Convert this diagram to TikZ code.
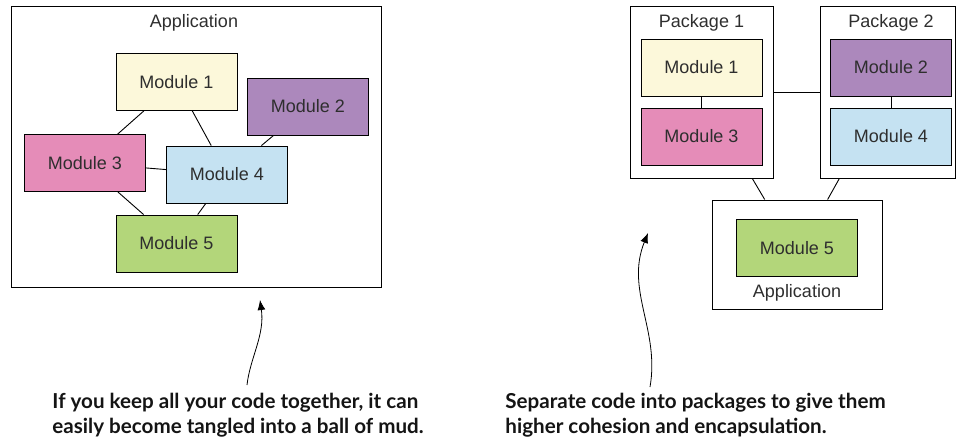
\documentclass[tikz,border=0pt]{standalone}
\usepackage{fontspec}
\setmainfont{Liberation Sans}
\newfontfamily\notefont{Lato}
\usetikzlibrary{arrows.meta}
\definecolor{mod1}{HTML}{FCF8DA}
\definecolor{mod2}{HTML}{AC88BC}
\definecolor{mod3}{HTML}{E58CB8}
\definecolor{mod4}{HTML}{C5E2F2}
\definecolor{mod5}{HTML}{B3D67A}

\begin{document}
\begin{tikzpicture}
  [x=1pt,y=-1pt,line width=0.9pt,
   every node/.style={text=black!82,font=\fontsize{18}{20}\selectfont},
   module/.style={draw,inner sep=0pt,minimum width=121pt,minimum height=57pt},
   frame/.style={draw,inner sep=0pt,line width=1pt},
   note/.style={anchor=north west,align=left,inner sep=0pt,text=black!92,
     font=\notefont\bfseries\fontsize{20.6}{25}\selectfont},
   pointer/.style={line width=0.8pt,-{Latex[length=10pt,width=8pt]}}]
  \useasboundingbox (0,0) rectangle (956,437);

  % all in one application
  \node[frame,minimum width=370pt,minimum height=281pt] (app) at (196,146.5) {};
  \node (apptitle) at (194,23) {Application};
  \node[module,fill=mod1] (l1) at (176.5,82) {Module 1};
  \node[module,fill=mod2] (l2) at (308,106.5) {Module 2};
  \node[module,fill=mod3] (l3) at (85,163) {Module 3};
  \node[module,fill=mod4] (l4) at (227,174.5) {Module 4};
  \node[module,fill=mod5] (l5) at (176.5,243.5) {Module 5};

  \foreach \from/\to in {l1/l3,l1/l4,l2/l4,l3/l4,l3/l5,l4/l5}
    \draw (\from) -- (\to);

  % split into packages
  \node[frame,minimum width=143pt,minimum height=172pt] (p1) at (701.5,92) {};
  \node[frame,minimum width=135pt,minimum height=172pt] (p2) at (887.5,92) {};
  \node[frame,minimum width=170pt,minimum height=109pt] (app2) at (797,254.5) {};
  \node (p1title) at (701.5,23) {Package 1};
  \node (p2title) at (891,23) {Package 2};
  \node (app2title) at (797,293) {Application};
  \node[module,fill=mod1] (r1) at (701.5,67.5) {Module 1};
  \node[module,fill=mod3] (r3) at (701.5,136.5) {Module 3};
  \node[module,fill=mod2] (r2) at (891,67.5) {Module 2};
  \node[module,fill=mod4] (r4) at (891,136.5) {Module 4};
  \node[module,fill=mod5] (r5) at (797,248) {Module 5};

  \foreach \from/\to in {r1/r3,r2/r4,p1/p2,p1/app2,p2/app2}
    \draw (\from) -- (\to);

  % callouts
  \coordinate (s1) at (247,385);
  \coordinate (e1) at (260,300);
  \coordinate (s2) at (650,387);
  \coordinate (e2) at (648,233);
  \draw[pointer] (s1) .. controls (250,358) and (265,335) .. (e1);
  \draw[pointer] (s2) .. controls (660,330) and (625,290) .. (e2);

  \node[note] (n1) at (52,393) {If you keep all your code together, it can\\easily become tangled into a ball of mud.};
  \node[note] (n2) at (505,393) {Separate code into packages to give them\\higher cohesion and encapsulation.};
\end{tikzpicture}
\end{document}
